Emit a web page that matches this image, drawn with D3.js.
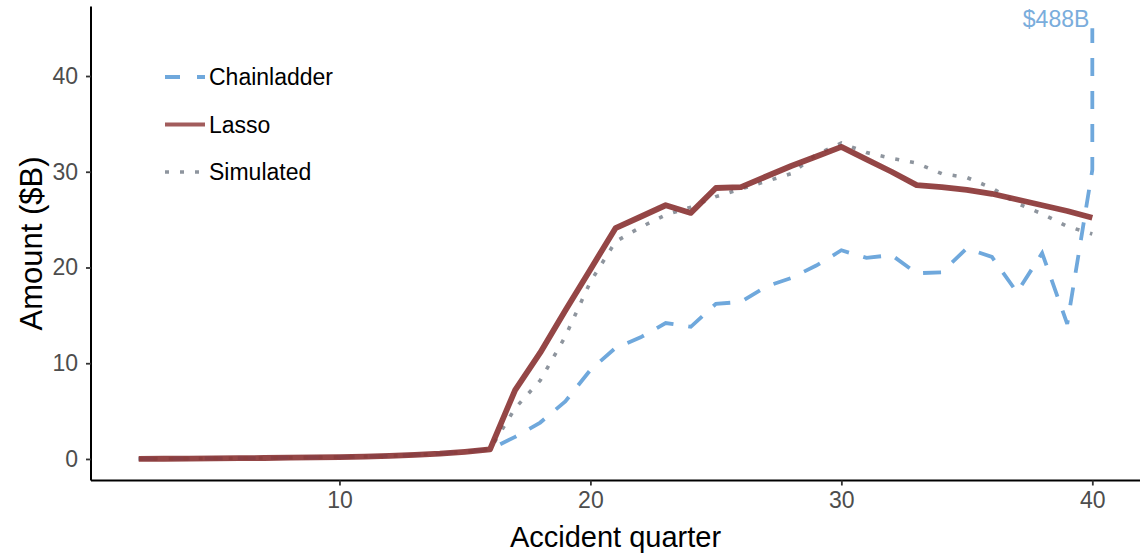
<!DOCTYPE html>
<html>
<head>
<meta charset="utf-8">
<script src="https://cdn.jsdelivr.net/npm/d3@7"></script>
<style>
  body { margin: 0; background: #fff; }
  text { font-family: "Liberation Sans", Arial, sans-serif; }
</style>
</head>
<body>
<script>
// accident quarters 2..40
var quarters = d3.range(2, 41)

// values in $B
var lasso = [0, 0.02, 0.04, 0.06, 0.08, 0.1, 0.13, 0.16, 0.2, 0.25, 0.32, 0.42, 0.55, 0.75, 1.0,
  7.2, 11.1, 15.5, 19.8, 24.1, 25.3, 26.5, 25.7, 28.3, 28.4, 29.5, 30.6, 31.6, 32.6,
  31.3, 30.0, 28.6, 28.4, 28.1, 27.7, 27.1, 26.5, 25.9, 25.2]

var simulated = [0, 0.02, 0.04, 0.06, 0.08, 0.1, 0.13, 0.16, 0.2, 0.25, 0.32, 0.42, 0.55, 0.75, 1.0,
  5.3, 8.2, 12.8, 18.5, 22.7, 24.2, 25.5, 26.3, 27.4, 28.2, 29.0, 29.8, 31.8, 33.0,
  32.0, 31.4, 30.9, 29.8, 29.4, 28.3, 26.7, 25.6, 24.3, 23.5]

var chainladder = [0, 0.02, 0.04, 0.06, 0.08, 0.1, 0.13, 0.16, 0.2, 0.25, 0.32, 0.42, 0.55, 0.75, 1.0,
  2.3, 3.8, 6.0, 9.3, 11.6, 12.7, 14.2, 13.8, 16.2, 16.4, 18.0, 18.9, 20.2, 21.8,
  21.0, 21.3, 19.4, 19.5, 22.0, 21.1, 17.4, 21.5, 14.1, 30.2]

// last chainladder estimate runs off the chart, capped at the top
var chainladderLast = 488
var yCap = 45

var xTicks = [10, 20, 30, 40]
var yTicks = [0, 10, 20, 30, 40]

var seriesNames = ["Chainladder", "Lasso", "Simulated"]

var W = 1141, H = 555
var margin = {top: 6.6, right: 1, bottom: 74.5, left: 91}
var w = W - margin.left - margin.right,
    h = H - margin.top - margin.bottom

var svg = d3.select("body").append("svg")
  .attr("width", W).attr("height", H)

var g = svg.append("g")
  .attr("transform", "translate(" + margin.left + "," + margin.top + ")")

// scales, ggplot-style 5% expansion
var xr = 40 - 2
var xScale = d3.scaleLinear().domain([2 - xr * 0.05, 40 + xr * 0.05]).range([0, w])
var yScale = d3.scaleLinear().domain([0 - yCap * 0.05, yCap + yCap * 0.05]).range([h, 0])

g.append("clipPath").attr("id", "clip")
  .append("rect").attr("width", w).attr("height", h)

var line = d3.line()
  .x(function(d) { return xScale(d[0]) })
  .y(function(d) { return yScale(d[1]) })

function pairs(vals) {
  return quarters.map(function(q, i) { return [q, vals[i]] })
}

var clData = pairs(chainladder)
clData.push([40, Math.min(chainladderLast, yCap)])

var plot = g.append("g").attr("clip-path", "url(#clip)")

plot.append("path")
  .attr("d", line(clData))
  .attr("fill", "none")
  .attr("stroke", "#6fa8dc")
  .attr("stroke-width", 3.8)
  .attr("stroke-dasharray", "18,15")

plot.append("path")
  .attr("d", line(pairs(simulated)))
  .attr("fill", "none")
  .attr("stroke", "#8e959e")
  .attr("stroke-width", 3.6)
  .attr("stroke-dasharray", "4,11")

plot.append("path")
  .attr("d", line(pairs(lasso)))
  .attr("fill", "none")
  .attr("stroke", "#8b3636")
  .attr("stroke-opacity", 0.92)
  .attr("stroke-width", 5.8)
  .attr("stroke-linejoin", "round")

// label for the capped value
g.append("text")
  .attr("x", xScale(40) - 3)
  .attr("y", yScale(yCap) - 1)
  .attr("text-anchor", "end")
  .attr("fill", "#7aaddc")
  .style("font-size", "23px")
  .text("$" + chainladderLast + "B")

// axes
var xAxis = g.append("g")
  .attr("transform", "translate(0," + h + ")")
  .call(d3.axisBottom(xScale).tickValues(xTicks).tickSize(5).tickPadding(6))
var yAxis = g.append("g")
  .call(d3.axisLeft(yScale).tickValues(yTicks).tickSize(5).tickPadding(8))

;[xAxis, yAxis].forEach(function(a) {
  a.select(".domain").attr("stroke", "#000").attr("stroke-width", 2)
  a.selectAll(".tick line").attr("stroke", "#333").attr("stroke-width", 1.8)
  a.selectAll(".tick text").attr("fill", "#4d4d4d").style("font-size", "23px")
    .style("font-family", "'Liberation Sans', Arial, sans-serif")
})
xAxis.select(".domain").attr("d", "M0,0H" + w)
yAxis.select(".domain").attr("d", "M0," + h + "V0")

// axis titles
svg.append("text")
  .attr("x", margin.left + w / 2)
  .attr("y", 547)
  .attr("text-anchor", "middle")
  .style("font-size", "29px")
  .text("Accident quarter")

svg.append("text")
  .attr("transform", "translate(42," + (margin.top + h / 2) + ")rotate(-90)")
  .attr("text-anchor", "middle")
  .style("font-size", "31px")
  .text("Amount ($B)")

// legend
var legend = svg.append("g").attr("transform", "translate(165,77)")
var legendStyles = [
  {stroke: "#6fa8dc", width: 3.8, dash: "15,17"},
  {stroke: "#a25c5c", width: 4.2, dash: null},
  {stroke: "#8e959e", width: 3.6, dash: "4,11"}
]
seriesNames.forEach(function(name, i) {
  var row = legend.append("g").attr("transform", "translate(0," + (i * 47.5) + ")")
  var s = legendStyles[i]
  row.append("line")
    .attr("x1", 0).attr("x2", 40).attr("y1", 0).attr("y2", 0)
    .attr("stroke", s.stroke)
    .attr("stroke-width", s.width)
    .attr("stroke-dasharray", s.dash)
  row.append("text")
    .attr("x", 44).attr("y", 8)
    .style("font-size", "23px")
    .text(name)
})
</script>
</body>
</html>
